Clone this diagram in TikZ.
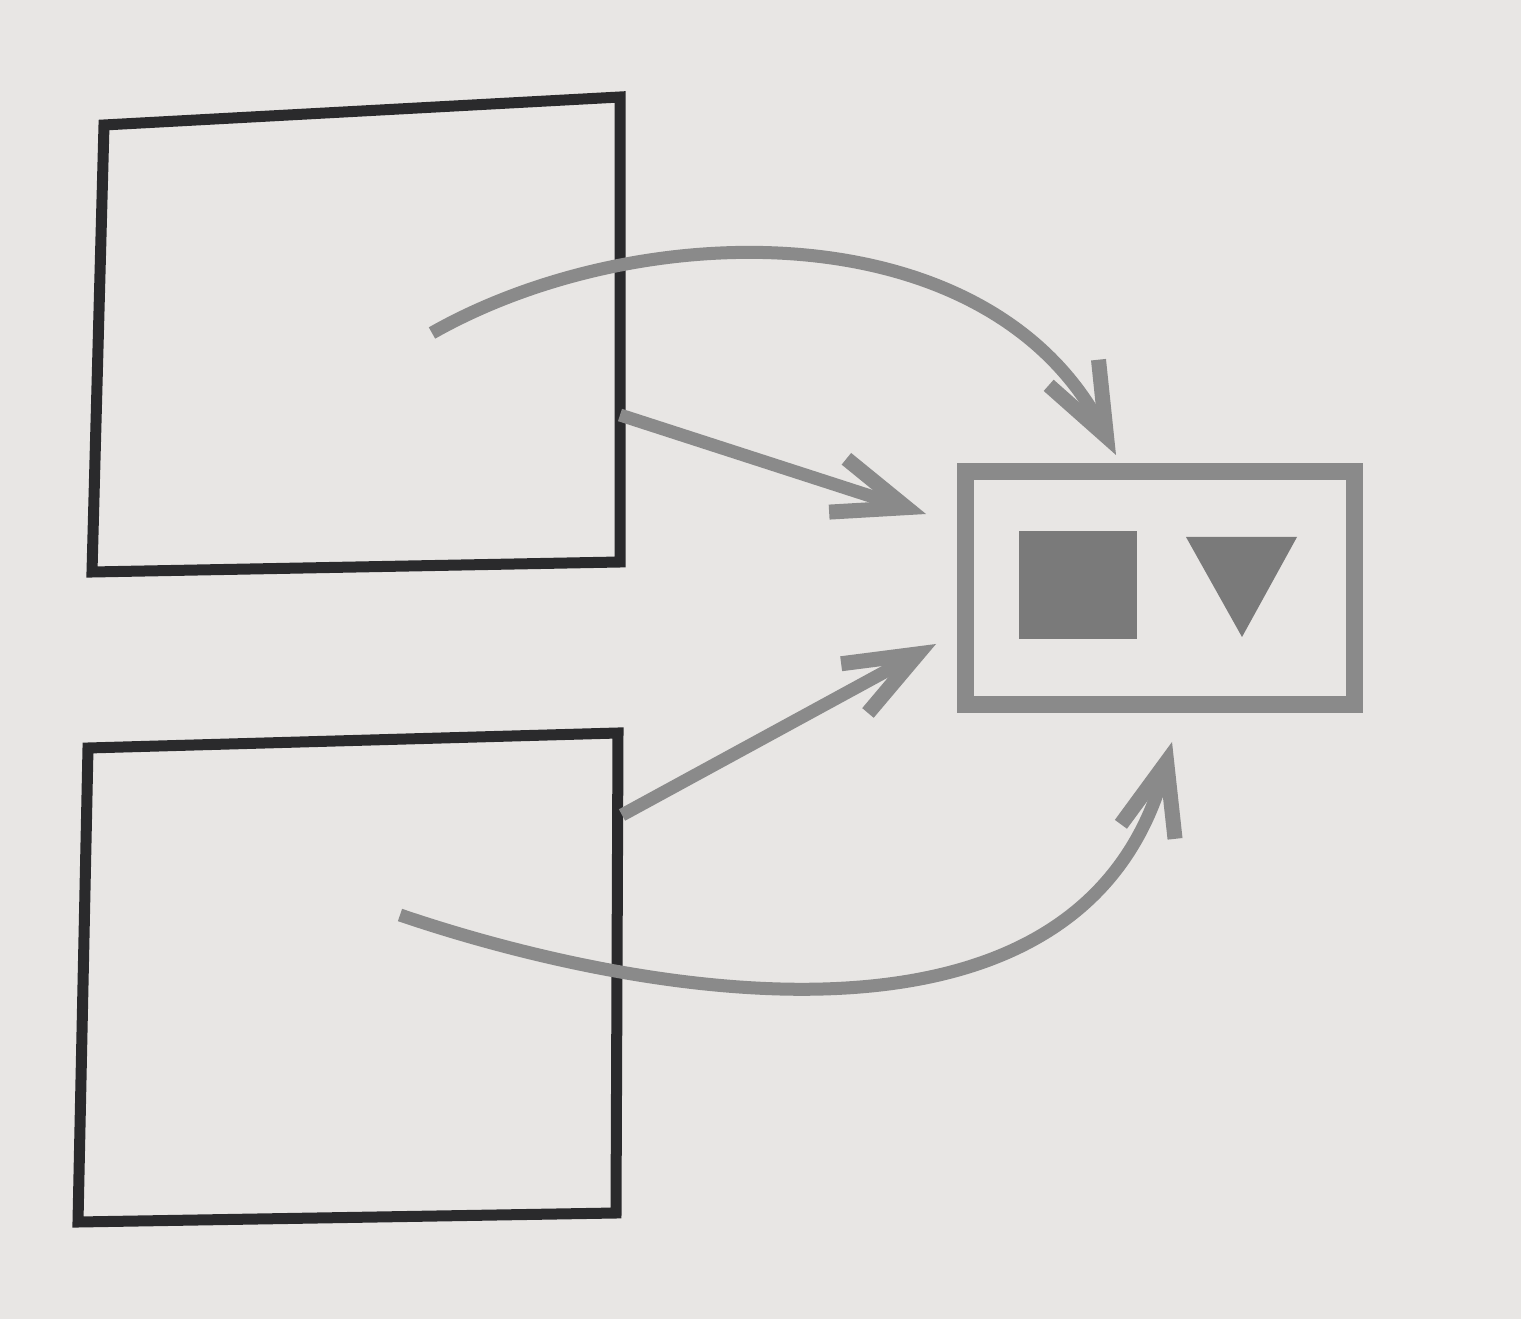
\documentclass[tikz,border=0pt]{standalone}
\usetikzlibrary{arrows.meta}
\definecolor{paper}{HTML}{E8E6E4}
\definecolor{ink}{HTML}{2A2A2C}
\definecolor{tone}{HTML}{8A8A8A}
\definecolor{tonedark}{HTML}{7A7A7A}
\begin{document}
\begin{tikzpicture}[x=0.01cm,y=-0.01cm,
  blackbox/.style={draw=ink,line width=0.11cm,line join=miter},
  link/.style={draw=tone,line width=0.13cm,-{Straight Barb[length=0.72cm,width=0.56cm,line width=0.15cm]}},
  shapefill/.style={fill=tonedark,draw=none,inner sep=0pt}]
\fill[paper] (0,0) rectangle (1521,1319);
\useasboundingbox (0,0) rectangle (1521,1319);
% top black box
\coordinate (a1) at (104,125);
\coordinate (a2) at (620,97);
\coordinate (a3) at (620,562);
\coordinate (a4) at (92,572);
\draw[blackbox] (a1)--(a2)--(a3)--(a4)--cycle;
% bottom black box
\coordinate (b1) at (88,748);
\coordinate (b2) at (618,733);
\coordinate (b3) at (616,1213);
\coordinate (b4) at (78,1222);
\draw[blackbox] (b1)--(b2)--(b3)--(b4)--cycle;
% gray target box
\node (gbox) [draw=tone,line width=0.17cm,minimum width=3.89cm,minimum height=2.33cm,inner sep=0pt] at (1160,588) {};
\node (sq) [shapefill,minimum width=1.17cm,minimum height=1.07cm] at (1078,585) {};
\coordinate (tr1) at (1186,537);
\coordinate (tr2) at (1297,537);
\coordinate (tr3) at (1242,637);
\fill[tonedark] (tr1)--(tr2)--(tr3)--cycle;
% arrows
\coordinate (s1) at (432,333);
\coordinate (t1) at (1116,455);
\coordinate (s2) at (620,415);
\coordinate (t2) at (926,514);
\coordinate (s3) at (622,815);
\coordinate (t3) at (936,644);
\coordinate (s4) at (400,915);
\coordinate (t4) at (1172,742);
\draw[link] (s1) .. controls (640,215) and (990,210) .. (t1);
\draw[link] (s2) -- (t2);
\draw[link] (s3) -- (t3);
\draw[link] (s4) .. controls (620,990) and (1080,1085) .. (t4);
\end{tikzpicture}
\end{document}
